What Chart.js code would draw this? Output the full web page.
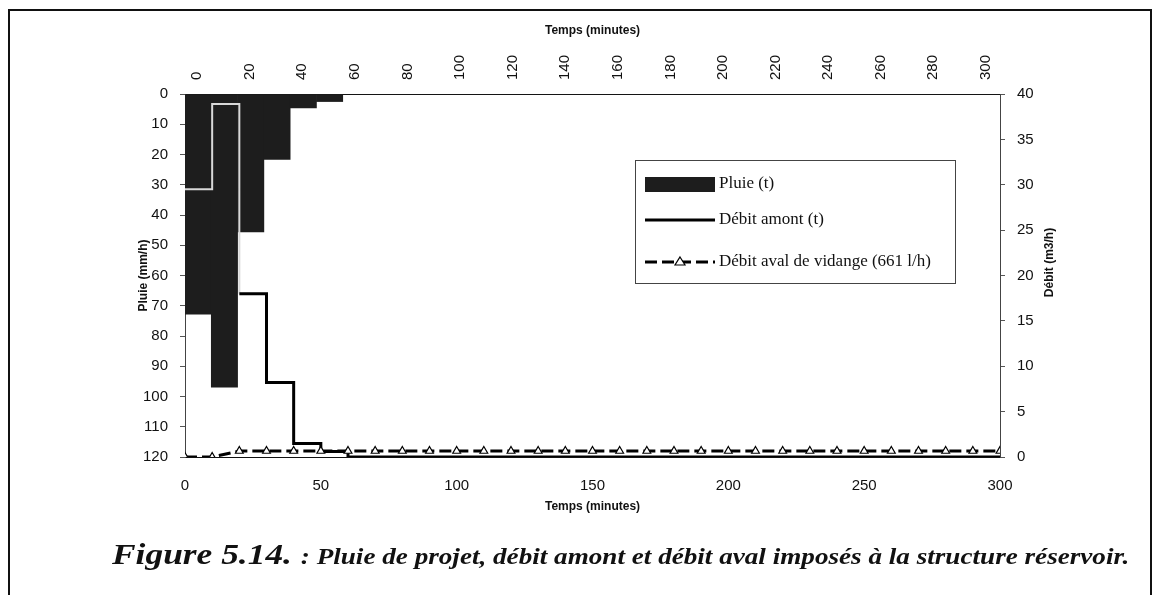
<!DOCTYPE html>
<html lang="fr">
<head>
<meta charset="utf-8">
<title>Figure 5.14</title>
<script src="https://cdn.jsdelivr.net/npm/chart.js@4.4.1/dist/chart.umd.min.js"></script>
<style>
  html, body { margin: 0; padding: 0; background: #fff; }
  #wrap { position: relative; width: 1161px; height: 595px; overflow: hidden; }
  #frame {
    position: absolute; left: 8px; top: 9px; width: 1144px; height: 600px;
    border: 2px solid #111; border-bottom: none; box-sizing: border-box;
  }
  canvas { position: absolute; left: 0; top: 0; }
  #caption {
    position: absolute; left: 112px; top: 537px; white-space: nowrap; color: #111;
    font-family: "Liberation Serif", "Times New Roman", serif;
    font-weight: bold; font-style: italic;
    transform: scaleX(1.18); transform-origin: 0 0;
  }
  #caption .fig { font-size: 30px; }
  #caption .txt { font-size: 23px; }
</style>
</head>
<body>
<div id="wrap">
  <div id="frame"></div>
  <canvas id="chart" width="1161" height="595"></canvas>
  <div id="caption"><span class="fig">Figure 5.14. </span><span class="txt">: Pluie de projet, débit amont et débit aval imposés à la structure réservoir.</span></div>
</div>
<script>
"use strict";

// rain: one bar per 10 min step, on the top (category) axis
const rainSteps = [0, 10, 20, 30, 40, 50, 60, 70, 80, 90, 100, 110, 120, 130, 140, 150,
  160, 170, 180, 190, 200, 210, 220, 230, 240, 250, 260, 270, 280, 290, 300];
const rain = [72.8, 96.9, 45.6, 21.6, 4.6, 2.5, 0, 0, 0, 0, 0, 0, 0, 0, 0, 0,
  0, 0, 0, 0, 0, 0, 0, 0, 0, 0, 0, 0, 0, 0, 0];

// flows, on the bottom time axis (minutes)
const flowTimes = [0, 10, 20, 30, 40, 50, 60, 70, 80, 90, 100, 110, 120, 130, 140, 150,
  160, 170, 180, 190, 200, 210, 220, 230, 240, 250, 260, 270, 280, 290, 300];
const upstream = [29.5, 38.9, 18, 8.2, 1.5, 0.6, 0, 0, 0, 0, 0, 0, 0, 0, 0, 0,
  0, 0, 0, 0, 0, 0, 0, 0, 0, 0, 0, 0, 0, 0, 0];
const outflow = [0, 0, 0.66, 0.66, 0.66, 0.66, 0.66, 0.66, 0.66, 0.66, 0.66, 0.66, 0.66, 0.66, 0.66, 0.66,
  0.66, 0.66, 0.66, 0.66, 0.66, 0.66, 0.66, 0.66, 0.66, 0.66, 0.66, 0.66, 0.66, 0.66, 0.66];

// tick labels
const timeTicks = [0, 50, 100, 150, 200, 250, 300];
const rainTicks = [0, 10, 20, 30, 40, 50, 60, 70, 80, 90, 100, 110, 120];
const flowTicks = [0, 5, 10, 15, 20, 25, 30, 35, 40];
const flowAxisTitle = "Débit (m3/h)";

const INK = "#111";
const pts = (xs, ys) => xs.map((x, i) => ({ x, y: ys[i] }));
const fixTicks = (list) => (scale) => { scale.ticks = list.map((v) => ({ value: v })); };

Chart.defaults.font.family = '"Liberation Sans", Arial, sans-serif';
Chart.defaults.color = INK;

// legend drawn as a framed box inside the plot, like the original
const legendBox = {
  id: "legendBox",
  afterDraw(chart) {
    const ctx = chart.ctx;
    const ds = chart.data.datasets;
    ctx.save();
    ctx.strokeStyle = "#444";
    ctx.lineWidth = 1;
    ctx.strokeRect(635.5, 160.5, 320, 123);

    ctx.fillStyle = ds[0].backgroundColor;
    ctx.fillRect(645, 177, 70, 15);

    ctx.strokeStyle = ds[1].borderColor;
    ctx.lineWidth = ds[1].borderWidth;
    ctx.beginPath(); ctx.moveTo(645, 220); ctx.lineTo(715, 220); ctx.stroke();

    ctx.strokeStyle = ds[2].borderColor;
    ctx.lineWidth = ds[2].borderWidth;
    ctx.setLineDash(ds[2].borderDash);
    ctx.beginPath(); ctx.moveTo(645, 262); ctx.lineTo(715, 262); ctx.stroke();
    ctx.setLineDash([]);
    ctx.fillStyle = "#fff";
    ctx.lineWidth = 1.2;
    ctx.beginPath(); ctx.moveTo(680, 257); ctx.lineTo(685, 265); ctx.lineTo(675, 265); ctx.closePath();
    ctx.fill(); ctx.stroke();

    ctx.fillStyle = INK;
    ctx.font = '17px "Liberation Serif", "Times New Roman", serif';
    ctx.textBaseline = "middle";
    ctx.fillText(ds[0].label, 719, 184);
    ctx.fillText(ds[1].label, 719, 220);
    ctx.fillText(ds[2].label, 719, 262);
    ctx.restore();
  },
};

// right axis title reads bottom-to-top in the original
const rightTitle = {
  id: "rightTitle",
  afterDraw(chart) {
    const { ctx, chartArea } = chart;
    const s = chart.scales.y2;
    ctx.save();
    ctx.translate(s.right - 11, (chartArea.top + chartArea.bottom) / 2 - 13);
    ctx.rotate(-Math.PI / 2);
    ctx.font = 'bold 12px "Liberation Sans", Arial, sans-serif';
    ctx.fillStyle = INK;
    ctx.textAlign = "center";
    ctx.textBaseline = "middle";
    ctx.fillText(flowAxisTitle, 0, 0);
    ctx.restore();
  },
};

const tickFont = { size: 15 };
const titleFont = { size: 12, weight: "bold" };

new Chart(document.getElementById("chart"), {
  type: "line",
  data: {
    labels: rainSteps,
    datasets: [
      {
        type: "bar",
        label: "Pluie (t)",
        data: rain,
        xAxisID: "x2",
        yAxisID: "y",
        backgroundColor: "#1d1d1d",
        barPercentage: 1,
        categoryPercentage: 1,
        grouped: false,
        order: 3,
      },
      {
        type: "line",
        label: "Débit amont (t)",
        data: pts(flowTimes, upstream),
        xAxisID: "x",
        yAxisID: "y2",
        stepped: "before",
        borderColor: "#000",
        borderWidth: 3,
        pointRadius: 0,
        // inside the dark rain bars the trace shows up pale
        segment: {
          borderColor: (c) => (c.p0.parsed.x < 20 ? "#d8d8d8" : undefined),
          borderWidth: (c) => (c.p0.parsed.x < 20 ? 2 : undefined),
        },
        order: 1,
      },
      {
        type: "line",
        label: "Débit aval de vidange (661 l/h)",
        data: pts(flowTimes, outflow),
        xAxisID: "x",
        yAxisID: "y2",
        borderColor: "#000",
        borderWidth: 3,
        borderDash: [12, 5],
        pointStyle: "triangle",
        pointRadius: 4.5,
        pointBackgroundColor: "#fff",
        pointBorderColor: "#000",
        pointBorderWidth: 1.2,
        order: 0,
      },
    ],
  },
  options: {
    responsive: false,
    animation: false,
    events: [],
    layout: { padding: { left: 132, right: 100, top: 19, bottom: 77 } },
    plugins: { legend: { display: false }, tooltip: { enabled: false } },
    scales: {
      x: {
        type: "linear",
        position: "bottom",
        min: 0,
        max: 300,
        offset: false,
        afterBuildTicks: fixTicks(timeTicks),
        afterFit: (s) => { s.height = 61; },
        ticks: { font: tickFont, padding: 20 },
        grid: { display: false, drawTicks: false, offset: false },
        border: { display: true, color: INK, width: 1 },
        title: { display: true, text: "Temps (minutes)", font: titleFont },
      },
      x2: {
        type: "category",
        position: "top",
        offset: true,
        afterFit: (s) => { s.height = 75; },
        ticks: {
          font: tickFont,
          padding: 14,
          labelOffset: 17,
          autoSkip: false,
          minRotation: 90,
          maxRotation: 90,
          callback(v, i) { return i % 2 === 0 ? this.getLabelForValue(v) : ""; },
        },
        grid: { display: false, drawTicks: false },
        border: { display: true, color: INK, width: 1 },
        title: { display: true, text: "Temps (minutes)", font: titleFont },
      },
      y: {
        type: "linear",
        position: "left",
        reverse: true,
        min: 0,
        max: 120,
        afterBuildTicks: fixTicks(rainTicks),
        afterFit: (s) => { s.width = 53; },
        ticks: { font: tickFont, padding: 12 },
        grid: { drawOnChartArea: false, drawTicks: true, tickLength: 5, color: "#555" },
        border: { display: true, color: "#444", width: 1, dash: [2, 3] },
        title: { display: true, text: "Pluie (mm/h)", font: titleFont },
      },
      y2: {
        type: "linear",
        position: "right",
        min: 0,
        max: 40,
        afterBuildTicks: fixTicks(flowTicks),
        afterFit: (s) => { s.width = 61; },
        ticks: { font: tickFont, padding: 12 },
        grid: { drawOnChartArea: false, drawTicks: true, tickLength: 5, color: "#555" },
        border: { display: true, color: "#444", width: 1, dash: [2, 3] },
        title: { display: false },
      },
    },
  },
  plugins: [legendBox, rightTitle],
});
</script>
</body>
</html>
